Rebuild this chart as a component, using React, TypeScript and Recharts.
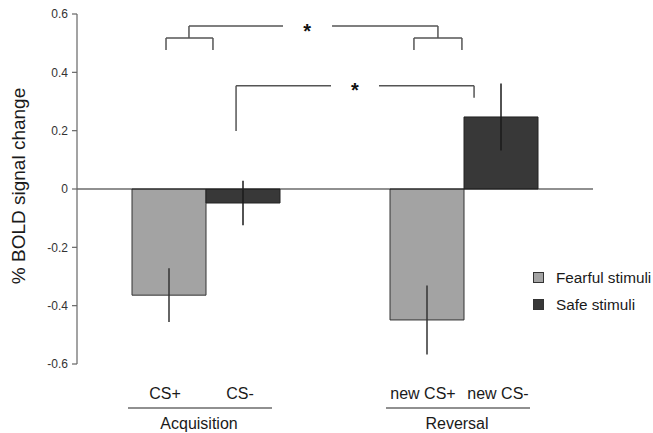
import React from 'react';
import {
  BarChart,
  Bar,
  XAxis,
  YAxis,
  ErrorBar,
  ReferenceLine,
  ReferenceDot,
  Legend,
} from 'recharts';

const groups = ['Acquisition', 'Reversal'];
const groupPositions = [1, 3];
const subLabels = [
  ['CS+', 'CS-'],
  ['new CS+', 'new CS-'],
];
const fearful = [-0.364, -0.449];
const fearfulErr = [0.092, 0.118];
const safe = [-0.048, 0.247];
const safeErr = [0.076, 0.115];
const yTicks = [-0.6, -0.4, -0.2, 0, 0.2, 0.4, 0.6];

// significance brackets, in data units (x: 0..4, y: % signal)
const bracketSegments = [
  [[0.69, 0.477], [0.69, 0.518]],
  [[0.69, 0.518], [1.054, 0.518]],
  [[1.054, 0.518], [1.054, 0.477]],
  [[0.868, 0.518], [0.868, 0.559]],
  [[0.868, 0.559], [1.597, 0.559]],
  [[1.977, 0.559], [2.798, 0.559]],
  [[2.798, 0.559], [2.798, 0.518]],
  [[2.612, 0.518], [2.984, 0.518]],
  [[2.612, 0.518], [2.612, 0.477]],
  [[2.984, 0.518], [2.984, 0.477]],
  [[1.233, 0.199], [1.233, 0.354]],
  [[1.233, 0.354], [1.969, 0.354]],
  [[2.341, 0.354], [3.078, 0.354]],
  [[3.078, 0.354], [3.078, 0.313]],
];
const stars = [
  [1.785, 0.542],
  [2.155, 0.339],
];

const data = groups.map((name, i) => ({
  name,
  pos: groupPositions[i],
  fearful: fearful[i],
  fearfulErr: fearfulErr[i],
  safe: safe[i],
  safeErr: safeErr[i],
}));

const FONT = '"Liberation Sans", Arial, sans-serif';

function GroupTick(props: any) {
  const { x, y, payload } = props;
  const idx = groupPositions.indexOf(payload.value);
  if (idx < 0) return null;
  const [a, b] = subLabels[idx];
  return (
    <g fontFamily={FONT} fill="#1a1a1a" fontSize={16}>
      <text x={x - 41} y={y + 27} textAnchor="middle">{a}</text>
      <text x={x + 34} y={y + 27} textAnchor="middle">{b}</text>
      <line x1={x - 78} x2={x + 66} y1={y + 36} y2={y + 36} stroke="#222" strokeWidth={1.2} />
      <text x={x - 7} y={y + 57} textAnchor="middle">{groups[idx]}</text>
    </g>
  );
}

function YLabel(props: any) {
  const { viewBox } = props;
  const cy = viewBox.y + viewBox.height / 2 - 3;
  return (
    <text
      x={18}
      y={cy}
      transform={`rotate(-90 18 ${cy})`}
      textAnchor="middle"
      dominantBaseline="central"
      fontFamily={FONT}
      fontSize={19}
      fill="#1a1a1a"
    >
      % BOLD signal change
    </text>
  );
}

function LegendBox({ payload }: any) {
  return (
    <div style={{ fontFamily: FONT, fontSize: 15.3, color: '#1a1a1a', whiteSpace: 'nowrap' }}>
      {(payload || []).map((p: any) => (
        <div key={p.value} style={{ display: 'flex', alignItems: 'center', height: 27 }}>
          <span
            style={{
              display: 'inline-block',
              width: 9,
              height: 9,
              background: p.color,
              border: '1px solid #333',
              marginRight: 12,
            }}
          />
          <span>{p.value}</span>
        </div>
      ))}
    </div>
  );
}

export default function App() {
  return (
    <div style={{ position: 'absolute', left: 0, top: 0, width: 653, height: 433, background: '#fff' }}>
      <BarChart
        width={653}
        height={433}
        data={data}
        margin={{ top: 14, right: 60, bottom: 9, left: 0 }}
        barGap={0}
        barSize={74}
      >
        <XAxis
          dataKey="pos"
          type="number"
          domain={[0, 4]}
          ticks={groupPositions}
          axisLine={false}
          tickLine={false}
          height={60}
          tick={<GroupTick />}
          interval={0}
        />
        <YAxis
          type="number"
          domain={[-0.6, 0.6]}
          ticks={yTicks}
          width={77}
          tickSize={5}
          tickMargin={4}
          axisLine={{ stroke: '#666', strokeWidth: 1.2 }}
          tickLine={{ stroke: '#666', strokeWidth: 1.2 }}
          tick={{ fontSize: 12, fill: '#333', fontFamily: FONT }}
          tickFormatter={(v: number) => (v === 0 ? '0' : v.toFixed(1))}
          label={<YLabel />}
        />
        <Legend
          layout="horizontal"
          verticalAlign="middle"
          align="center"
          content={<LegendBox />}
          wrapperStyle={{ left: 533, top: 264, width: 120 }}
        />
        <Bar dataKey="fearful" name="Fearful stimuli" fill="#a3a3a3" stroke="#333" strokeWidth={1} isAnimationActive={false}>
          <ErrorBar dataKey="fearfulErr" width={0} stroke="#333" strokeWidth={1.5} direction="y" />
        </Bar>
        <Bar dataKey="safe" name="Safe stimuli" fill="#383838" stroke="#222" strokeWidth={1} isAnimationActive={false}>
          <ErrorBar dataKey="safeErr" width={0} stroke="#1a1a1a" strokeWidth={1.5} direction="y" />
        </Bar>
        <ReferenceLine y={0} stroke="#222" strokeWidth={1.2} />
        {bracketSegments.map((s, i) => (
          <ReferenceLine
            key={i}
            segment={[
              { x: s[0][0], y: s[0][1] },
              { x: s[1][0], y: s[1][1] },
            ]}
            stroke="#555"
            strokeWidth={1.5}
          />
        ))}
        {stars.map((s, i) => (
          <ReferenceDot
            key={i}
            x={s[0]}
            y={s[1]}
            r={1}
            fill="none"
            stroke="none"
            label={{ value: '*', position: 'center', fontSize: 20, fontWeight: 'bold', fill: '#111', fontFamily: FONT }}
          />
        ))}
      </BarChart>
    </div>
  );
}
